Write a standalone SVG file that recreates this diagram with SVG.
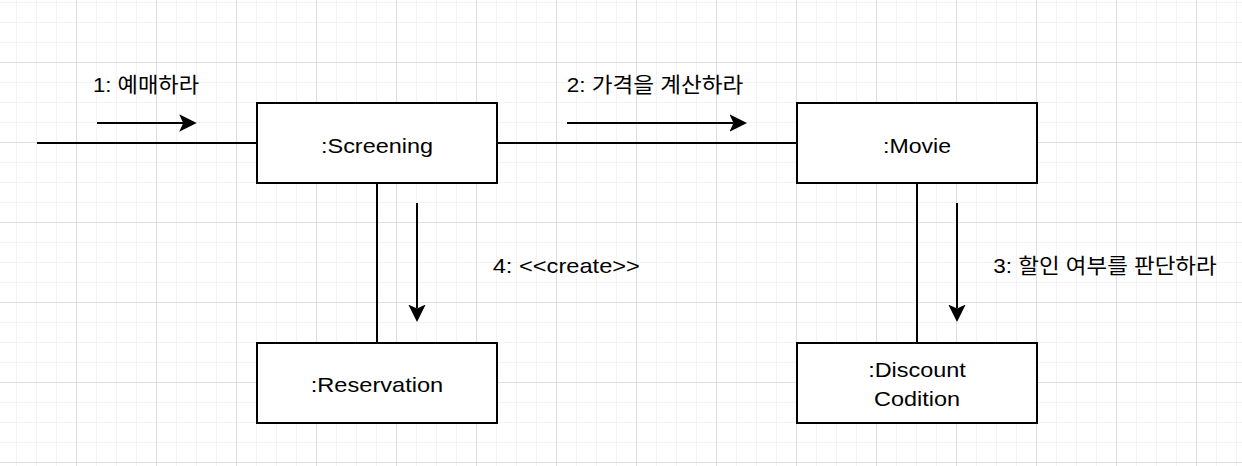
<svg xmlns="http://www.w3.org/2000/svg" width="1242" height="466" viewBox="0 0 1242 466">
  <style>
    .node rect { fill: #ffffff; stroke: #000000; stroke-width: 2; }
    .node text, .label { font-family: "Liberation Sans", "Noto Sans CJK KR", Arial, sans-serif; font-size: 21px; fill: #000000; text-anchor: middle; }
    .conn { stroke: #000000; stroke-width: 2; fill: none; }
    .msg { stroke: #000000; stroke-width: 2; fill: none; marker-end: url(#arrow); }
  </style>
  <defs>
    <pattern id="gridMinor" patternUnits="userSpaceOnUse" x="16" y="2" width="20" height="20">
      <path d="M0 0.5 H20 M0.5 0 V20" stroke="#f3f3f3" stroke-width="1" fill="none"/>
    </pattern>
    <pattern id="gridMajor" patternUnits="userSpaceOnUse" x="76" y="62" width="80" height="80">
      <path d="M0 0.5 H80 M0.5 0 V80" stroke="#e0e0e0" stroke-width="1" fill="none"/>
    </pattern>
    <marker id="arrow" markerUnits="userSpaceOnUse" viewBox="0 0 20 20" markerWidth="20" markerHeight="20" refX="4" refY="10" orient="auto">
      <path d="M0,1.3 L17.5,10 L0,18.7 L4,10 Z" fill="#000000"/>
    </marker>
  </defs>

  <rect x="0" y="0" width="1242" height="466" fill="#ffffff"/>
  <rect x="0" y="0" width="1242" height="466" fill="url(#gridMinor)"/>
  <rect x="0" y="0" width="1242" height="466" fill="url(#gridMajor)"/>

  <g id="connectors">
    <line class="conn" x1="37" y1="143" x2="257" y2="143"/>
    <line class="conn" x1="497" y1="143" x2="797" y2="143"/>
    <line class="conn" x1="377" y1="183" x2="377" y2="343"/>
    <line class="conn" x1="917" y1="183" x2="917" y2="343"/>
    <line class="msg" x1="97" y1="123" x2="183.2" y2="123"/>
    <line class="msg" x1="567" y1="123" x2="733.5" y2="123"/>
    <line class="msg" x1="417" y1="203" x2="417" y2="308.5"/>
    <line class="msg" x1="957" y1="203" x2="957" y2="308.5"/>
    <text class="label" x="146" y="92" textLength="106" lengthAdjust="spacingAndGlyphs">1: 예매하라</text>
    <text class="label" x="655" y="92" textLength="176.5" lengthAdjust="spacingAndGlyphs">2: 가격을 계산하라</text>
    <text class="label" x="566.3" y="272.5" textLength="147.3" lengthAdjust="spacingAndGlyphs">4: &lt;&lt;create&gt;&gt;</text>
    <text class="label" x="1105" y="272.5" textLength="223.4" lengthAdjust="spacingAndGlyphs">3: 할인 여부를 판단하라</text>
  </g>

  <g id="screening" class="node">
    <rect x="257" y="103" width="240" height="80"/>
    <text x="377" y="152.5" textLength="112" lengthAdjust="spacingAndGlyphs">:Screening</text>
  </g>
  <g id="movie" class="node">
    <rect x="797" y="103" width="240" height="80"/>
    <text x="917" y="152.5" textLength="68" lengthAdjust="spacingAndGlyphs">:Movie</text>
  </g>
  <g id="reservation" class="node">
    <rect x="257" y="343" width="240" height="80"/>
    <text x="377" y="391.5" textLength="132.5" lengthAdjust="spacingAndGlyphs">:Reservation</text>
  </g>
  <g id="discount" class="node">
    <rect x="797" y="343" width="240" height="80"/>
    <text x="917" y="377.3" textLength="97.7" lengthAdjust="spacingAndGlyphs">:Discount</text>
    <text x="917" y="405.7" textLength="86" lengthAdjust="spacingAndGlyphs">Codition</text>
  </g>
</svg>
